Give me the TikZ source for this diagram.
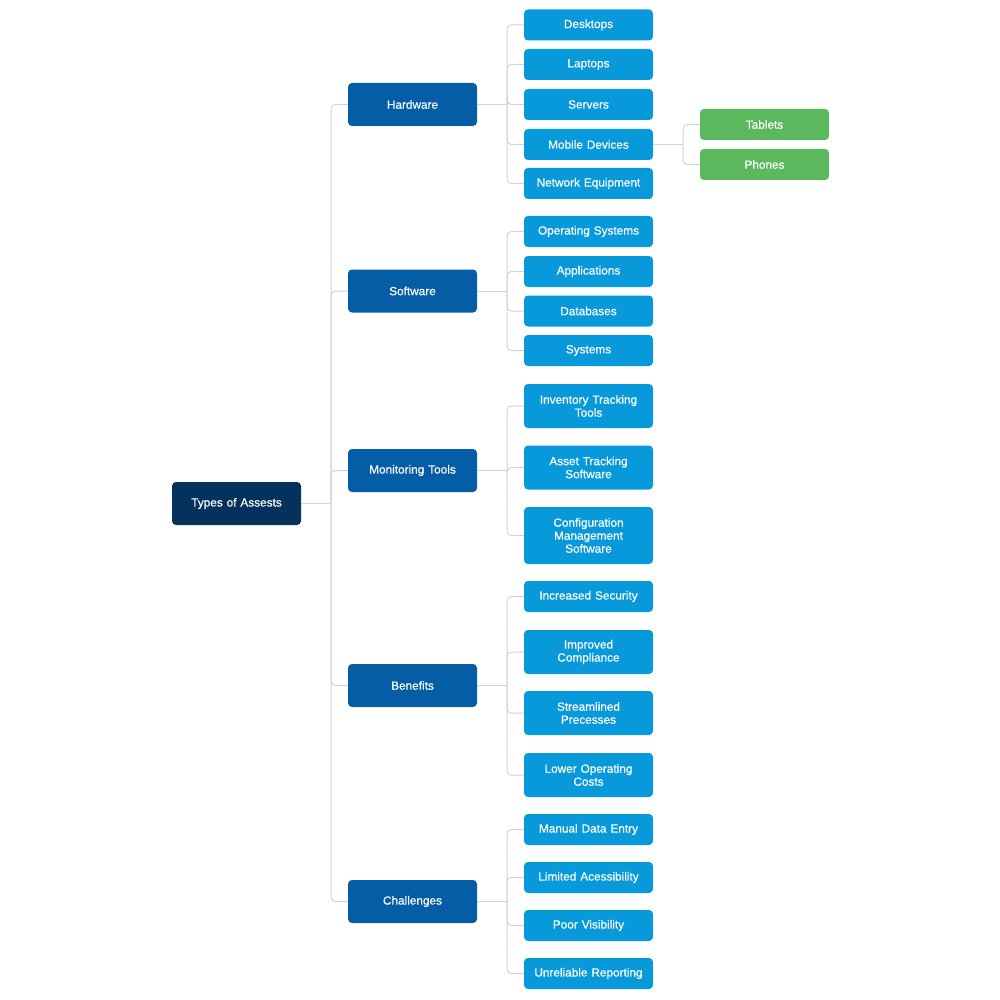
\documentclass[tikz,border=0pt]{standalone}
\usepackage{fontspec}
\setmainfont{Liberation Sans}
\newfontfamily\boxfont{Liberation Sans}[FakeBold=0.4]
\definecolor{rootc}{HTML}{04325C}
\definecolor{lonec}{HTML}{055EA5}
\definecolor{ltwoc}{HTML}{0899DB}
\definecolor{lthreec}{HTML}{5CB85C}
\definecolor{linec}{HTML}{D3D3D3}
\begin{document}
\begin{tikzpicture}[x=1pt,y=-1pt,
 box/.style={rounded corners=4pt, minimum width=129pt, text width=125pt, align=center, text=white, font=\boxfont\fontsize{11.8}{13}\selectfont, inner sep=0pt},
 rootbox/.style={box, fill=rootc, minimum height=43pt},
 lone/.style={box, fill=lonec, minimum height=43pt},
 ltwo/.style={box, fill=ltwoc, minimum height=31pt},
 ltwob/.style={box, fill=ltwoc, minimum height=44pt},
 ltwoc/.style={box, fill=ltwoc, minimum height=57pt},
 lthree/.style={box, fill=lthreec, minimum height=31pt},
 conn/.style={draw=linec, line width=1pt, rounded corners=4pt}]
\useasboundingbox (0,0) rectangle (1000,1000);
% root
\node[rootbox] (root) at (236.5,503.5) {Types of Assests};
% level 1
\node[lone] (hw) at (412.5,104.5) {Hardware};
\node[lone] (sw) at (412.5,291) {Software};
\node[lone] (mt) at (412.5,470.5) {Monitoring Tools};
\node[lone] (bn) at (412.5,685.5) {Benefits};
\node[lone] (ch) at (412.5,901.5) {Challenges};
% hardware
\node[ltwo] (desk) at (588.5,25) {Desktops};
\node[ltwo] (lap) at (588.5,64.5) {Laptops};
\node[ltwo] (srv) at (588.5,104.5) {Servers};
\node[ltwo] (mob) at (588.5,144.5) {Mobile Devices};
\node[ltwo] (net) at (588.5,183.5) {Network Equipment};
\node[lthree] (tab) at (764.5,124.5) {Tablets};
\node[lthree] (pho) at (764.5,164.5) {Phones};
% software
\node[ltwo] (os) at (588.5,231.5) {Operating Systems};
\node[ltwo] (app) at (588.5,271.5) {Applications};
\node[ltwo] (db) at (588.5,311) {Databases};
\node[ltwo] (sys) at (588.5,350.5) {Systems};
% monitoring
\node[ltwob] (inv) at (588.5,406) {Inventory Tracking\\Tools};
\node[ltwob] (ats) at (588.5,467.5) {Asset Tracking\\Software};
\node[ltwoc] (cms) at (588.5,535.5) {Configuration\\Management\\Software};
% benefits
\node[ltwo] (sec) at (588.5,596.5) {Increased Security};
\node[ltwob] (comp) at (588.5,652) {Improved\\Compliance};
\node[ltwob] (str) at (588.5,713) {Streamlined\\Precesses};
\node[ltwob] (low) at (588.5,775) {Lower Operating\\Costs};
% challenges
\node[ltwo] (man) at (588.5,829.5) {Manual Data Entry};
\node[ltwo] (lim) at (588.5,877.5) {Limited Acessibility};
\node[ltwo] (poor) at (588.5,925.5) {Poor Visibility};
\node[ltwo] (unr) at (588.5,973.5) {Unreliable Reporting};
% connectors
\draw[conn] (root.east) -- ++(30,0) coordinate (rb);
\foreach \c in {hw,sw,mt,bn,ch} \draw[conn] (rb) |- (\c.west);
\draw[conn] (hw.east) -- ++(30,0) coordinate (hwb);
\foreach \c in {desk,lap,srv,mob,net} \draw[conn] (hwb) |- (\c.west);
\draw[conn] (mob.east) -- ++(30,0) coordinate (mobb);
\foreach \c in {tab,pho} \draw[conn] (mobb) |- (\c.west);
\draw[conn] (sw.east) -- ++(30,0) coordinate (swb);
\foreach \c in {os,app,db,sys} \draw[conn] (swb) |- (\c.west);
\draw[conn] (mt.east) -- ++(30,0) coordinate (mtb);
\foreach \c in {inv,ats,cms} \draw[conn] (mtb) |- (\c.west);
\draw[conn] (bn.east) -- ++(30,0) coordinate (bnb);
\foreach \c in {sec,comp,str,low} \draw[conn] (bnb) |- (\c.west);
\draw[conn] (ch.east) -- ++(30,0) coordinate (chb);
\foreach \c in {man,lim,poor,unr} \draw[conn] (chb) |- (\c.west);
\end{tikzpicture}
\end{document}
